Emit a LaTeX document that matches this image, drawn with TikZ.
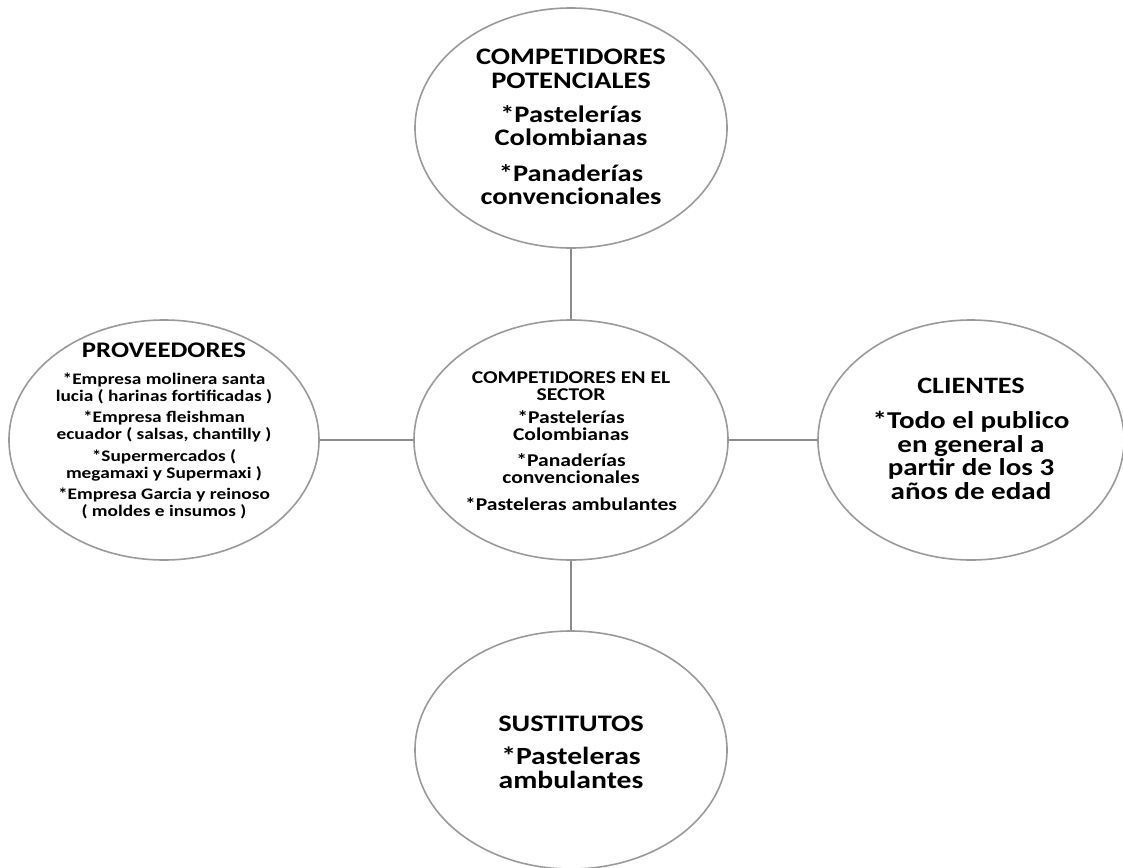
\documentclass[tikz,border=0pt]{standalone}
\usepackage{fontspec}
\setmainfont{Carlito}[FakeStretch=1.2]
\usetikzlibrary{shapes.geometric}
\definecolor{ringgray}{HTML}{9A9A9A}
\definecolor{linkgray}{HTML}{8C8C8C}
\newcommand{\fsz}[2]{\fontsize{#1}{#2}\selectfont}
\begin{document}
\begin{tikzpicture}[x=1pt,y=-1pt,
  bubble/.style={ellipse, draw=ringgray, line width=1.6pt, inner sep=0pt},
  link/.style={draw=linkgray, line width=2.2pt},
  txt/.style={align=center, inner sep=0pt}]
\useasboundingbox (0,0) rectangle (1123,867);

% five bubbles
\node[bubble, minimum width=312, minimum height=240] (pot) at (571,128) {};
\node[bubble, minimum width=314, minimum height=240] (sec) at (571,440) {};
\node[bubble, minimum width=310, minimum height=240] (prov) at (164,440) {};
\node[bubble, minimum width=306, minimum height=240] (cli) at (971,440) {};
\node[bubble, minimum width=312, minimum height=238] (sus) at (571,750) {};

% connectors
\draw[link] (pot.south) -- (sec.north);
\draw[link] (sec.south) -- (sus.north);
\draw[link] (prov.east) -- (sec.west);
\draw[link] (sec.east) -- (cli.west);

% texts
\node[txt, font=\bfseries\fsz{23.7}{23.5}] (potT) at (571,127)
  {COMPETIDORES\\POTENCIALES\\[10.5pt]*Pastelerías\\Colombianas\\[12pt]*Panaderías\\convencionales};

\node[txt, font=\bfseries\fsz{18}{17}] (secT) at (571,441)
  {COMPETIDORES EN EL\\[0pt]SECTOR\\[6pt]*Pastelerías\\Colombianas\\[9pt]*Panaderías\\convencionales\\[10pt]*Pasteleras ambulantes};

\node[txt, font=\bfseries\fsz{16.1}{16.7}] (provT) at (164,431)
  {\fsz{22.3}{16.7}PROVEEDORES\\[10pt]
   *Empresa molinera santa\\lucia ( harinas fortificadas )\\[5pt]
   *Empresa fleishman\\ecuador ( salsas, chantilly )\\[5pt]
   *Supermercados (\\megamaxi y Supermaxi )\\[5pt]
   *Empresa Garcia y reinoso\\( moldes e insumos )};

\node[txt, font=\bfseries\fsz{24.2}{23.5}] (cliT) at (971,439)
  {\fsz{23.5}{23.5}CLIENTES\\[11.5pt]
   *Todo el publico\\en general a\\partir de los 3\\años de edad};

\node[txt, font=\bfseries\fsz{24.7}{24}] (susT) at (571,752)
  {\fsz{23.7}{24}SUSTITUTOS\\[9pt]
   *Pasteleras\\ambulantes};
\end{tikzpicture}
\end{document}
